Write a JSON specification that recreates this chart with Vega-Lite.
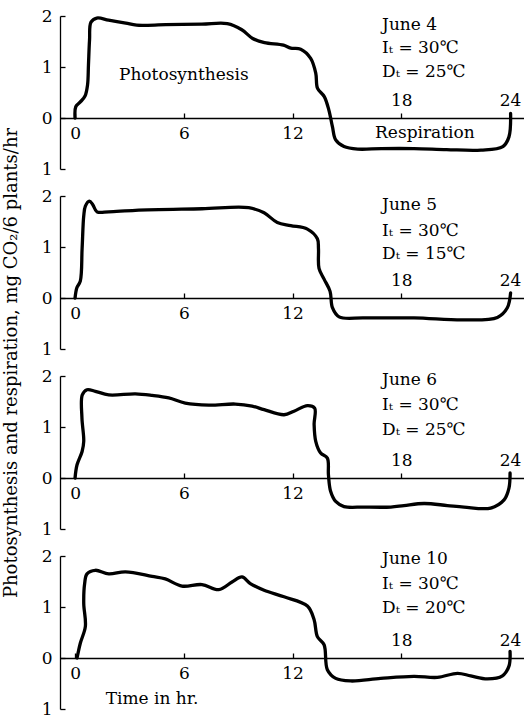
{
  "$schema": "https://vega.github.io/schema/vega-lite/v6.json",
  "background": "white",
  "padding": {"left": 2, "top": 7, "right": 0, "bottom": 0},
  "data": {"values": [
    {"panel": "June 4", "kind": "curve", "i": 1, "t": 0, "v": 0},
    {"panel": "June 4", "kind": "curve", "i": 2, "t": 0.04, "v": 0.22},
    {"panel": "June 4", "kind": "curve", "i": 3, "t": 0.28, "v": 0.31},
    {"panel": "June 4", "kind": "curve", "i": 4, "t": 0.55, "v": 0.43},
    {"panel": "June 4", "kind": "curve", "i": 5, "t": 0.69, "v": 0.65},
    {"panel": "June 4", "kind": "curve", "i": 6, "t": 0.74, "v": 1.04},
    {"panel": "June 4", "kind": "curve", "i": 7, "t": 0.8, "v": 1.53},
    {"panel": "June 4", "kind": "curve", "i": 8, "t": 0.88, "v": 1.88},
    {"panel": "June 4", "kind": "curve", "i": 9, "t": 1.2, "v": 1.96},
    {"panel": "June 4", "kind": "curve", "i": 10, "t": 1.85, "v": 1.92},
    {"panel": "June 4", "kind": "curve", "i": 11, "t": 2.8, "v": 1.86},
    {"panel": "June 4", "kind": "curve", "i": 12, "t": 3.4, "v": 1.82},
    {"panel": "June 4", "kind": "curve", "i": 13, "t": 5, "v": 1.83},
    {"panel": "June 4", "kind": "curve", "i": 14, "t": 7, "v": 1.84},
    {"panel": "June 4", "kind": "curve", "i": 15, "t": 8.4, "v": 1.85},
    {"panel": "June 4", "kind": "curve", "i": 16, "t": 9.2, "v": 1.73},
    {"panel": "June 4", "kind": "curve", "i": 17, "t": 9.8, "v": 1.56},
    {"panel": "June 4", "kind": "curve", "i": 18, "t": 10.45, "v": 1.48},
    {"panel": "June 4", "kind": "curve", "i": 19, "t": 11.5, "v": 1.43},
    {"panel": "June 4", "kind": "curve", "i": 20, "t": 11.9, "v": 1.37},
    {"panel": "June 4", "kind": "curve", "i": 21, "t": 12.45, "v": 1.35},
    {"panel": "June 4", "kind": "curve", "i": 22, "t": 13.0, "v": 1.17},
    {"panel": "June 4", "kind": "curve", "i": 23, "t": 13.28, "v": 0.88},
    {"panel": "June 4", "kind": "curve", "i": 24, "t": 13.38, "v": 0.58},
    {"panel": "June 4", "kind": "curve", "i": 25, "t": 13.75, "v": 0.42},
    {"panel": "June 4", "kind": "curve", "i": 26, "t": 14.0, "v": 0.16},
    {"panel": "June 4", "kind": "curve", "i": 27, "t": 14.2, "v": -0.17},
    {"panel": "June 4", "kind": "curve", "i": 28, "t": 14.38, "v": -0.43},
    {"panel": "June 4", "kind": "curve", "i": 29, "t": 14.84, "v": -0.56},
    {"panel": "June 4", "kind": "curve", "i": 30, "t": 15.6, "v": -0.61},
    {"panel": "June 4", "kind": "curve", "i": 31, "t": 16.9, "v": -0.6},
    {"panel": "June 4", "kind": "curve", "i": 32, "t": 18.7, "v": -0.6},
    {"panel": "June 4", "kind": "curve", "i": 33, "t": 20.5, "v": -0.62},
    {"panel": "June 4", "kind": "curve", "i": 34, "t": 22.4, "v": -0.63},
    {"panel": "June 4", "kind": "curve", "i": 35, "t": 23.6, "v": -0.56},
    {"panel": "June 4", "kind": "curve", "i": 36, "t": 23.94, "v": -0.37},
    {"panel": "June 4", "kind": "curve", "i": 37, "t": 24.03, "v": 0.09},

    {"panel": "June 5", "kind": "curve", "i": 1, "t": 0, "v": 0},
    {"panel": "June 5", "kind": "curve", "i": 2, "t": 0.1, "v": 0.2},
    {"panel": "June 5", "kind": "curve", "i": 3, "t": 0.29, "v": 0.33},
    {"panel": "June 5", "kind": "curve", "i": 4, "t": 0.39, "v": 0.97},
    {"panel": "June 5", "kind": "curve", "i": 5, "t": 0.48, "v": 1.61},
    {"panel": "June 5", "kind": "curve", "i": 6, "t": 0.57, "v": 1.8},
    {"panel": "June 5", "kind": "curve", "i": 7, "t": 0.79, "v": 1.9},
    {"panel": "June 5", "kind": "curve", "i": 8, "t": 0.98, "v": 1.83},
    {"panel": "June 5", "kind": "curve", "i": 9, "t": 1.21, "v": 1.69},
    {"panel": "June 5", "kind": "curve", "i": 10, "t": 1.86, "v": 1.69},
    {"panel": "June 5", "kind": "curve", "i": 11, "t": 3.33, "v": 1.72},
    {"panel": "June 5", "kind": "curve", "i": 12, "t": 7.0, "v": 1.75},
    {"panel": "June 5", "kind": "curve", "i": 13, "t": 9.58, "v": 1.77},
    {"panel": "June 5", "kind": "curve", "i": 14, "t": 10.43, "v": 1.67},
    {"panel": "June 5", "kind": "curve", "i": 15, "t": 11.16, "v": 1.48},
    {"panel": "June 5", "kind": "curve", "i": 16, "t": 11.9, "v": 1.42},
    {"panel": "June 5", "kind": "curve", "i": 17, "t": 12.82, "v": 1.35},
    {"panel": "June 5", "kind": "curve", "i": 18, "t": 13.37, "v": 1.16},
    {"panel": "June 5", "kind": "curve", "i": 19, "t": 13.43, "v": 0.97},
    {"panel": "June 5", "kind": "curve", "i": 20, "t": 13.46, "v": 0.58},
    {"panel": "June 5", "kind": "curve", "i": 21, "t": 13.74, "v": 0.37},
    {"panel": "June 5", "kind": "curve", "i": 22, "t": 14.07, "v": 0.13},
    {"panel": "June 5", "kind": "curve", "i": 23, "t": 14.2, "v": -0.19},
    {"panel": "June 5", "kind": "curve", "i": 24, "t": 14.57, "v": -0.37},
    {"panel": "June 5", "kind": "curve", "i": 25, "t": 15.94, "v": -0.39},
    {"panel": "June 5", "kind": "curve", "i": 26, "t": 18.7, "v": -0.39},
    {"panel": "June 5", "kind": "curve", "i": 27, "t": 21.46, "v": -0.43},
    {"panel": "June 5", "kind": "curve", "i": 28, "t": 23.3, "v": -0.38},
    {"panel": "June 5", "kind": "curve", "i": 29, "t": 23.85, "v": -0.19},
    {"panel": "June 5", "kind": "curve", "i": 30, "t": 24.03, "v": 0.1},

    {"panel": "June 6", "kind": "curve", "i": 1, "t": 0, "v": 0},
    {"panel": "June 6", "kind": "curve", "i": 2, "t": 0.11, "v": 0.26},
    {"panel": "June 6", "kind": "curve", "i": 3, "t": 0.39, "v": 0.52},
    {"panel": "June 6", "kind": "curve", "i": 4, "t": 0.48, "v": 0.72},
    {"panel": "June 6", "kind": "curve", "i": 5, "t": 0.38, "v": 1.18},
    {"panel": "June 6", "kind": "curve", "i": 6, "t": 0.4, "v": 1.63},
    {"panel": "June 6", "kind": "curve", "i": 7, "t": 0.66, "v": 1.73},
    {"panel": "June 6", "kind": "curve", "i": 8, "t": 1.12, "v": 1.7},
    {"panel": "June 6", "kind": "curve", "i": 9, "t": 1.86, "v": 1.63},
    {"panel": "June 6", "kind": "curve", "i": 10, "t": 3.33, "v": 1.65},
    {"panel": "June 6", "kind": "curve", "i": 11, "t": 4.25, "v": 1.62},
    {"panel": "June 6", "kind": "curve", "i": 12, "t": 5.17, "v": 1.57},
    {"panel": "June 6", "kind": "curve", "i": 13, "t": 6.08, "v": 1.47},
    {"panel": "June 6", "kind": "curve", "i": 14, "t": 7.38, "v": 1.43},
    {"panel": "June 6", "kind": "curve", "i": 15, "t": 8.84, "v": 1.45},
    {"panel": "June 6", "kind": "curve", "i": 16, "t": 9.77, "v": 1.41},
    {"panel": "June 6", "kind": "curve", "i": 17, "t": 10.43, "v": 1.34},
    {"panel": "June 6", "kind": "curve", "i": 18, "t": 11.53, "v": 1.24},
    {"panel": "June 6", "kind": "curve", "i": 19, "t": 12.08, "v": 1.31},
    {"panel": "June 6", "kind": "curve", "i": 20, "t": 12.82, "v": 1.42},
    {"panel": "June 6", "kind": "curve", "i": 21, "t": 13.22, "v": 1.37},
    {"panel": "June 6", "kind": "curve", "i": 22, "t": 13.19, "v": 1.05},
    {"panel": "June 6", "kind": "curve", "i": 23, "t": 13.28, "v": 0.72},
    {"panel": "June 6", "kind": "curve", "i": 24, "t": 13.55, "v": 0.49},
    {"panel": "June 6", "kind": "curve", "i": 25, "t": 13.92, "v": 0.39},
    {"panel": "June 6", "kind": "curve", "i": 26, "t": 13.98, "v": 0.06},
    {"panel": "June 6", "kind": "curve", "i": 27, "t": 14.1, "v": -0.26},
    {"panel": "June 6", "kind": "curve", "i": 28, "t": 14.38, "v": -0.46},
    {"panel": "June 6", "kind": "curve", "i": 29, "t": 14.84, "v": -0.56},
    {"panel": "June 6", "kind": "curve", "i": 30, "t": 15.94, "v": -0.57},
    {"panel": "June 6", "kind": "curve", "i": 31, "t": 17.42, "v": -0.57},
    {"panel": "June 6", "kind": "curve", "i": 32, "t": 18.15, "v": -0.54},
    {"panel": "June 6", "kind": "curve", "i": 33, "t": 19.26, "v": -0.5},
    {"panel": "June 6", "kind": "curve", "i": 34, "t": 20.54, "v": -0.54},
    {"panel": "June 6", "kind": "curve", "i": 35, "t": 21.46, "v": -0.57},
    {"panel": "June 6", "kind": "curve", "i": 36, "t": 22.93, "v": -0.59},
    {"panel": "June 6", "kind": "curve", "i": 37, "t": 23.67, "v": -0.43},
    {"panel": "June 6", "kind": "curve", "i": 38, "t": 23.94, "v": -0.2},
    {"panel": "June 6", "kind": "curve", "i": 39, "t": 24.0, "v": 0.1},

    {"panel": "June 10", "kind": "curve", "i": 1, "t": 0.11, "v": 0},
    {"panel": "June 10", "kind": "curve", "i": 2, "t": 0.29, "v": 0.29},
    {"panel": "June 10", "kind": "curve", "i": 3, "t": 0.57, "v": 0.62},
    {"panel": "June 10", "kind": "curve", "i": 4, "t": 0.48, "v": 1.07},
    {"panel": "June 10", "kind": "curve", "i": 5, "t": 0.53, "v": 1.46},
    {"panel": "June 10", "kind": "curve", "i": 6, "t": 0.66, "v": 1.65},
    {"panel": "June 10", "kind": "curve", "i": 7, "t": 1.12, "v": 1.72},
    {"panel": "June 10", "kind": "curve", "i": 8, "t": 1.86, "v": 1.65},
    {"panel": "June 10", "kind": "curve", "i": 9, "t": 2.78, "v": 1.69},
    {"panel": "June 10", "kind": "curve", "i": 10, "t": 4.25, "v": 1.6},
    {"panel": "June 10", "kind": "curve", "i": 11, "t": 4.98, "v": 1.55},
    {"panel": "June 10", "kind": "curve", "i": 12, "t": 5.9, "v": 1.41},
    {"panel": "June 10", "kind": "curve", "i": 13, "t": 7.0, "v": 1.44},
    {"panel": "June 10", "kind": "curve", "i": 14, "t": 7.93, "v": 1.34},
    {"panel": "June 10", "kind": "curve", "i": 15, "t": 8.66, "v": 1.49},
    {"panel": "June 10", "kind": "curve", "i": 16, "t": 9.21, "v": 1.59},
    {"panel": "June 10", "kind": "curve", "i": 17, "t": 9.67, "v": 1.46},
    {"panel": "June 10", "kind": "curve", "i": 18, "t": 10.43, "v": 1.33},
    {"panel": "June 10", "kind": "curve", "i": 19, "t": 11.53, "v": 1.2},
    {"panel": "June 10", "kind": "curve", "i": 20, "t": 12.82, "v": 1.02},
    {"panel": "June 10", "kind": "curve", "i": 21, "t": 13.19, "v": 0.75},
    {"panel": "June 10", "kind": "curve", "i": 22, "t": 13.37, "v": 0.42},
    {"panel": "June 10", "kind": "curve", "i": 23, "t": 13.74, "v": 0.26},
    {"panel": "June 10", "kind": "curve", "i": 24, "t": 13.92, "v": -0.23},
    {"panel": "June 10", "kind": "curve", "i": 25, "t": 14.38, "v": -0.4},
    {"panel": "June 10", "kind": "curve", "i": 26, "t": 15.21, "v": -0.45},
    {"panel": "June 10", "kind": "curve", "i": 27, "t": 16.86, "v": -0.4},
    {"panel": "June 10", "kind": "curve", "i": 28, "t": 18.7, "v": -0.36},
    {"panel": "June 10", "kind": "curve", "i": 29, "t": 19.99, "v": -0.38},
    {"panel": "June 10", "kind": "curve", "i": 30, "t": 21.1, "v": -0.3},
    {"panel": "June 10", "kind": "curve", "i": 31, "t": 21.83, "v": -0.35},
    {"panel": "June 10", "kind": "curve", "i": 32, "t": 22.75, "v": -0.41},
    {"panel": "June 10", "kind": "curve", "i": 33, "t": 23.58, "v": -0.35},
    {"panel": "June 10", "kind": "curve", "i": 34, "t": 23.94, "v": -0.16},
    {"panel": "June 10", "kind": "curve", "i": 35, "t": 24.0, "v": 0.13},

    {"panel": "June 4", "kind": "note", "t": 16.94, "v": 1.82, "text": "June  4"},
    {"panel": "June 4", "kind": "note", "t": 16.94, "v": 1.37, "text": "Iₜ = 30℃"},
    {"panel": "June 4", "kind": "note", "t": 16.94, "v": 0.9, "text": "Dₜ = 25℃"},
    {"panel": "June 5", "kind": "note", "t": 16.94, "v": 1.83, "text": "June  5"},
    {"panel": "June 5", "kind": "note", "t": 16.94, "v": 1.32, "text": "Iₜ = 30℃"},
    {"panel": "June 5", "kind": "note", "t": 16.94, "v": 0.87, "text": "Dₜ = 15℃"},
    {"panel": "June 6", "kind": "note", "t": 16.94, "v": 1.93, "text": "June  6"},
    {"panel": "June 6", "kind": "note", "t": 16.94, "v": 1.44, "text": "Iₜ = 30℃"},
    {"panel": "June 6", "kind": "note", "t": 16.94, "v": 0.95, "text": "Dₜ = 25℃"},
    {"panel": "June 10", "kind": "note", "t": 16.94, "v": 1.95, "text": "June  10"},
    {"panel": "June 10", "kind": "note", "t": 16.94, "v": 1.46, "text": "Iₜ = 30℃"},
    {"panel": "June 10", "kind": "note", "t": 16.94, "v": 0.98, "text": "Dₜ = 20℃"},
    {"panel": "June 4", "kind": "caption", "t": 6.0, "v": 0.85, "text": "Photosynthesis"},
    {"panel": "June 4", "kind": "caption", "t": 19.3, "v": -0.3, "text": "Respiration"},
    {"panel": "June 10", "kind": "caption", "t": 4.25, "v": -0.8, "text": "Time in hr."}
  ]},
  "facet": {
    "row": {
      "field": "panel",
      "type": "nominal",
      "sort": ["June 4", "June 5", "June 6", "June 10"],
      "header": {
        "labels": false,
        "title": "Photosynthesis and respiration, mg CO₂/6 plants/hr    ",
        "titleFont": "DejaVu Serif",
        "titleFontSize": 18,
        "titleFontWeight": "normal",
        "titleColor": "black",
        "titlePadding": 10
      }
    }
  },
  "spacing": {"row": 27},
  "bounds": "flush",
  "resolve": {"axis": {"x": "independent"}},
  "spec": {
    "width": 466,
    "height": 153,
    "encoding": {
      "x": {
        "field": "t",
        "type": "quantitative",
        "scale": {"domain": [-0.83, 24.88], "nice": false, "zero": false},
        "axis": {
          "orient": "bottom",
          "offset": -51,
          "values": [0, 6, 12, 18, 24],
          "title": null,
          "grid": false,
          "domainColor": "black",
          "domainWidth": 1.3,
          "tickColor": "black",
          "tickWidth": 1.3,
          "tickSize": -5,
          "labelFont": "DejaVu Serif",
          "labelFontSize": 17,
          "labelColor": "black",
          "labelFlush": false,
          "labelOverlap": false,
          "labelPadding": {"condition": {"test": "datum.value >= 18", "value": -8}, "value": 12},
          "labelBaseline": {"condition": {"test": "datum.value >= 18", "value": "alphabetic"}, "value": "top"}
        }
      },
      "y": {
        "field": "v",
        "type": "quantitative",
        "scale": {"domain": [-1, 2], "nice": false, "zero": false},
        "axis": {
          "values": [-1, 0, 1, 2],
          "labelExpr": "'' + abs(datum.value)",
          "title": null,
          "grid": false,
          "domainColor": "black",
          "domainWidth": 1.3,
          "tickColor": "black",
          "tickWidth": 1.3,
          "tickSize": -5,
          "labelPadding": 13,
          "labelFont": "DejaVu Serif",
          "labelFontSize": 17,
          "labelColor": "black"
        }
      }
    },
    "layer": [
      {
        "transform": [{"filter": "datum.kind === 'curve'"}],
        "mark": {"type": "line", "interpolate": "catmull-rom", "color": "black", "strokeWidth": 3.3, "strokeCap": "round", "strokeJoin": "round"},
        "encoding": {"order": {"field": "i", "type": "quantitative"}}
      },
      {
        "transform": [{"filter": "datum.kind === 'note'"}],
        "mark": {"type": "text", "align": "left", "baseline": "middle", "font": "DejaVu Serif", "fontSize": 17, "color": "black"},
        "encoding": {"text": {"field": "text", "type": "nominal"}}
      },
      {
        "transform": [{"filter": "datum.kind === 'caption'"}],
        "mark": {"type": "text", "align": "center", "baseline": "middle", "font": "DejaVu Serif", "fontSize": 17, "color": "black"},
        "encoding": {"text": {"field": "text", "type": "nominal"}}
      }
    ]
  },
  "config": {"view": {"stroke": null}}
}
